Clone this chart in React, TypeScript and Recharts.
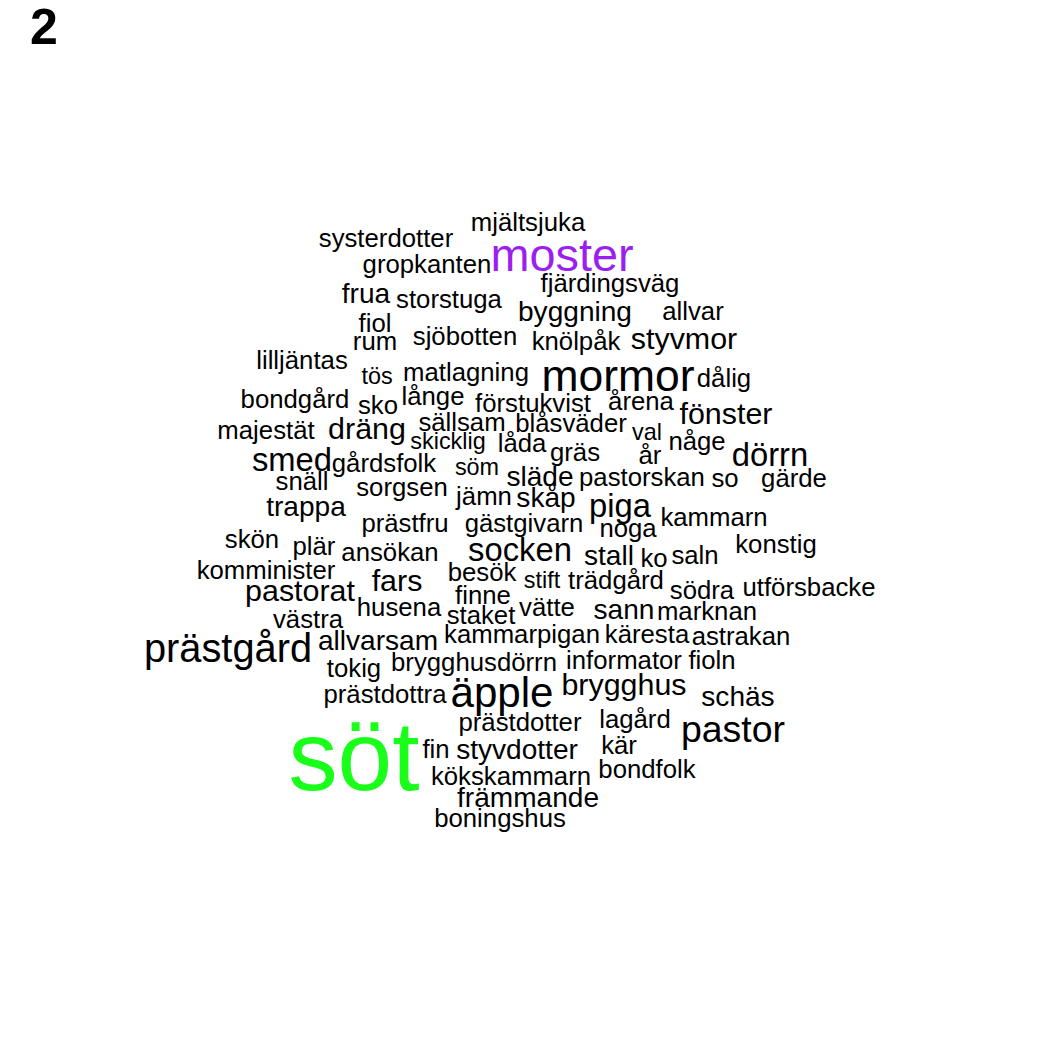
import React from "react";
import { ScatterChart, Scatter, XAxis, YAxis } from "recharts";

const words = ["systerdotter","mjältsjuka","moster","gropkanten","fjärdingsväg","frua","storstuga","byggning","allvar","fiol","sjöbotten","knölpåk","styvmor","rum","lilljäntas","tös","matlagning","mormor","dålig","bondgård","sko","långe","förstukvist","årena","fönster","majestät","dräng","sällsam","blåsväder","skicklig","låda","val","gräs","någe","år","dörrn","smed","gårdsfolk","söm","släde","pastorskan","so","gärde","snäll","sorgsen","jämn","skåp","piga","trappa","prästfru","gästgivarn","noga","kammarn","skön","plär","ansökan","socken","stall","ko","saln","konstig","komminister","besök","fars","stift","trädgård","södra","utförsbacke","pastorat","finne","husena","staket","vätte","sann","marknan","västra","prästgård","allvarsam","kammarpigan","käresta","astrakan","tokig","brygghusdörrn","informator","fioln","prästdottra","äpple","brygghus","schäs","prästdotter","lagård","pastor","söt","fin","styvdotter","kär","kökskammarn","bondfolk","främmande","boningshus"];
const xs = [386,528,562,427,610,366,449,575,693,375,465,576,684,375,302,377,466,618,724,295,378,433,533,641,726,266,367,462,571,448,522,647,575,697,650,770,292,384,477,540,642,725,794,302,402,484,546,620,306,405,524,628,714,252,314,390,520,609,654,695,776,266,482,397,542,616,702,809,300,483,399,481,547,624,707,308,228,378,522,647,741,354,474,624,712,385,502,624,738,520,635,733,354,436,517,619,511,647,528,500];
const ys = [238,222,255,264,283,293,299,311,311,323,336,341,338,341,360,376,372,375,378,399,405,396,403,401,413,430,428,422,423,441,443,432,452,441,455,454,459,463,467,476,477,478,478,481,487,496,497,505,506,523,523,528,517,539,546,552,549,555,558,555,544,570,572,580,580,580,590,587,590,595,607,615,607,609,611,619,648,640,634,634,636,668,662,660,660,694,692,684,696,722,719,729,756,749,749,745,776,769,797,818];
const sizes = [22,22,40,22,22,24,22,24,22,22,22,22,26,22,22,20,22,38,22,22,22,22,22,22,26,22,26,22,22,20,22,20,22,22,22,28,28,22,20,24,22,22,22,22,22,22,24,28,24,22,22,22,22,22,22,22,28,24,22,22,22,22,22,26,20,22,22,22,26,22,22,22,22,24,22,22,34,24,22,22,22,22,22,22,22,22,36,26,24,22,22,32,84,22,24,22,22,22,24,22];
const colorFor: Record<string, string> = { "söt": "#1aff1a", moster: "#9b1ff0" };

const data = words.map((w, i) => ({ word: w, x: xs[i], y: ys[i], size: sizes[i] }));

const WordShape = (props: any) => {
  const { cx, cy, payload } = props;
  return (
    <text x={cx} y={cy} textAnchor="middle" dominantBaseline="central"
      fontSize={payload.size * 1.17} fontFamily="Liberation Sans, Arial, sans-serif"
      fill={colorFor[payload.word] || "#000"}>
      {payload.word}
    </text>
  );
};

export default function App() {
  return (
    <div style={{ position: "absolute", left: 0, top: 0, width: 1050, height: 1050, background: "#fff" }}>
      <div style={{ position: "absolute", left: 30, top: -2, fontFamily: "Liberation Sans, Arial, sans-serif", fontWeight: "bold", fontSize: 50 }}>2</div>
      <ScatterChart width={1050} height={1050} margin={{ top: 0, right: 0, bottom: 0, left: 0 }}>
        <XAxis type="number" dataKey="x" domain={[0, 1050]} hide />
        <YAxis type="number" dataKey="y" domain={[0, 1050]} reversed hide />
        <Scatter data={data} shape={<WordShape />} isAnimationActive={false} />
      </ScatterChart>
    </div>
  );
}
